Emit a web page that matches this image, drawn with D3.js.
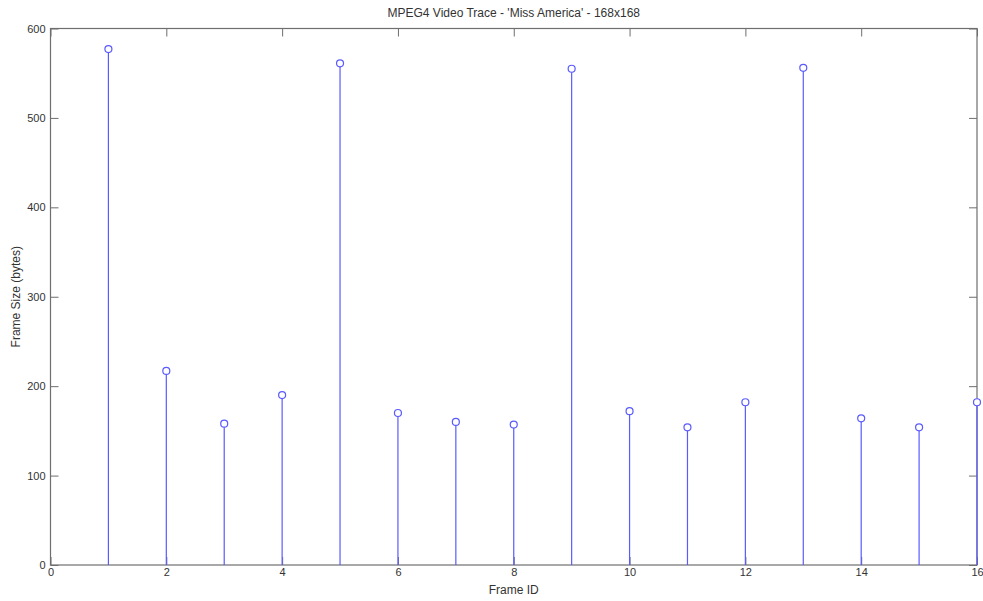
<!DOCTYPE html>
<html>
<head>
<meta charset="utf-8">
<script src="https://cdn.jsdelivr.net/npm/d3@7"></script>
<style>
  body { margin: 0; background: #fff; }
  svg { display: block; font-family: "Liberation Sans", Arial, sans-serif; }
</style>
</head>
<body>
<svg width="983" height="601"></svg>
<script>
// frame ids and sizes
let frameIds = [1, 2, 3, 4, 5, 6, 7, 8, 9, 10, 11, 12, 13, 14, 15, 16];
let frameSizes = [577, 217, 158, 190, 561, 170, 160, 157, 555, 172, 154, 182, 556, 164, 154, 182];
let xTicks = [0, 2, 4, 6, 8, 10, 12, 14, 16];
let yTicks = [0, 100, 200, 300, 400, 500, 600];

let svg = d3.select("svg"),
    margin = { top: 28.5, right: 6, bottom: 36, left: 50.5 },
    width = svg.attr("width") - margin.left - margin.right,
    height = svg.attr("height") - margin.top - margin.bottom,
    g = svg.append("g").attr("transform", "translate(" + margin.left + "," + margin.top + ")");

let axisColor = "#6e6e6e",
    stemColor = "#5a5aff";

let x = d3.scaleLinear().domain([0, 16]).range([0, width]);
let y = d3.scaleLinear().domain([0, 600]).range([height, 0]);

// axes with inward ticks on all four sides
function styleAxis(sel) {
    sel.select(".domain").remove();
    sel.selectAll(".tick line").attr("stroke", axisColor);
    sel.selectAll(".tick text").attr("fill", "#333").style("font-size", "11px");
}

g.append("g")
    .attr("transform", "translate(0," + height + ")")
    .call(d3.axisBottom(x).tickValues(xTicks).tickSizeInner(-8).tickPadding(3))
    .call(styleAxis);

g.append("g")
    .call(d3.axisTop(x).tickValues(xTicks).tickSizeInner(-8).tickFormat(""))
    .call(styleAxis);

g.append("g")
    .call(d3.axisLeft(y).tickValues(yTicks).tickSizeInner(-8).tickPadding(5))
    .call(styleAxis);

g.append("g")
    .attr("transform", "translate(" + width + ",0)")
    .call(d3.axisRight(y).tickValues(yTicks).tickSizeInner(-8).tickFormat(""))
    .call(styleAxis);

g.append("rect")
    .attr("width", width)
    .attr("height", height)
    .attr("fill", "none")
    .attr("stroke", axisColor)
    .attr("stroke-width", 1.2);

// stems
g.selectAll(".stem")
    .data(frameIds)
    .enter().append("line")
    .attr("class", "stem")
    .attr("x1", d => x(d))
    .attr("x2", d => x(d))
    .attr("y1", y(0))
    .attr("y2", (d, i) => y(frameSizes[i]))
    .attr("stroke", stemColor)
    .attr("stroke-width", 1.2);

g.selectAll(".head")
    .data(frameIds)
    .enter().append("circle")
    .attr("class", "head")
    .attr("cx", d => x(d))
    .attr("cy", (d, i) => y(frameSizes[i]))
    .attr("r", 3.5)
    .attr("fill", "#fff")
    .attr("stroke", stemColor)
    .attr("stroke-width", 1.2);

// title and labels
svg.append("text")
    .attr("x", margin.left + width / 2)
    .attr("y", 17)
    .attr("text-anchor", "middle")
    .attr("fill", "#333")
    .style("font-size", "12px")
    .text("MPEG4 Video Trace - 'Miss America' - 168x168");

svg.append("text")
    .attr("x", margin.left + width / 2)
    .attr("y", 594)
    .attr("text-anchor", "middle")
    .attr("fill", "#333")
    .style("font-size", "12px")
    .text("Frame ID");

svg.append("text")
    .attr("transform", "translate(20," + (margin.top + height / 2) + ") rotate(-90)")
    .attr("text-anchor", "middle")
    .attr("fill", "#333")
    .style("font-size", "12px")
    .text("Frame Size (bytes)");
</script>
</body>
</html>
